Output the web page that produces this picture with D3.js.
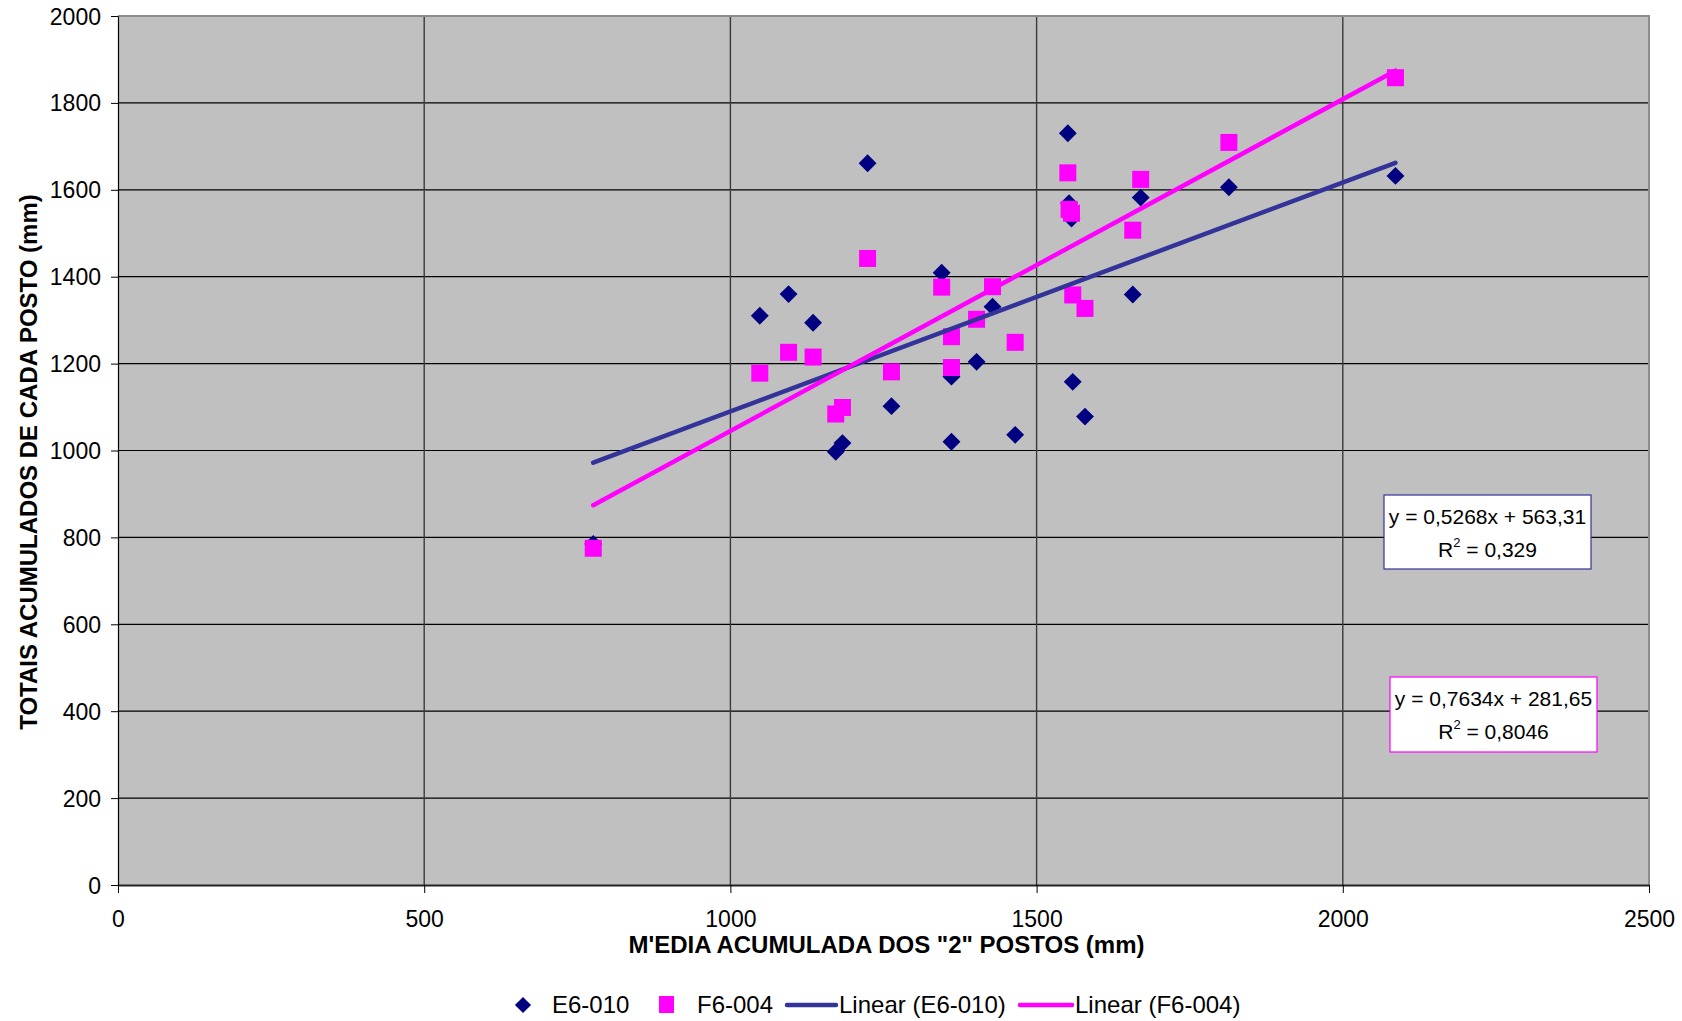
<!DOCTYPE html>
<html>
<head>
<meta charset="utf-8">
<script src="https://cdn.jsdelivr.net/npm/d3@7"></script>
<style>
  body { margin: 0; background: #fff; }
  svg text { font-family: "Liberation Sans", Arial, sans-serif; fill: #000; }
</style>
</head>
<body>
<div id="chart"></div>
<script>
// x values (shared by both series) and the two y series
const xValues = [776, 1048, 1095, 1135, 1172, 1183, 1224, 1263, 1345, 1361, 1361, 1402, 1428, 1465, 1551, 1553, 1557, 1559, 1579, 1657, 1670, 1814, 2086];
const e6Values = [785, 1310, 1360, 1294, 997, 1017, 1661, 1102, 1409, 1170, 1020, 1204, 1331, 1036, 1730, 1569, 1534, 1158, 1078, 1359, 1582, 1606, 1632];
const f6Values = [775, 1178, 1226, 1215, 1084, 1099, 1442, 1181, 1376, 1262, 1191, 1302, 1377, 1249, 1639, 1555, 1546, 1358, 1327, 1507, 1624, 1709, 1858];

// trend line coefficients as printed on the chart
const seriesNames = ["E6-010", "F6-004"];
const trendSlopes = [0.5268, 0.7634];
const trendIntercepts = [563.31, 281.65];
const trendEquations = ["y = 0,5268x + 563,31", "y = 0,7634x + 281,65"];
const trendR2 = ["0,329", "0,8046"];

const xTicks = [0, 500, 1000, 1500, 2000, 2500];
const yTicks = [0, 200, 400, 600, 800, 1000, 1200, 1400, 1600, 1800, 2000];

const width = 1682;
const height = 1021;
const margin = { left: 118, top: 16, right: 33, bottom: 136 };

const navy = "#000080";
const magenta = "#ff00ff";
const trendBlue = "#333399";

const svg = d3
  .select("#chart")
  .append("svg")
  .attr("width", width)
  .attr("height", height);

const x = d3
  .scaleLinear()
  .domain([0, 2500])
  .range([margin.left, width - margin.right]);

const y = d3
  .scaleLinear()
  .domain([0, 2000])
  .range([height - margin.bottom, margin.top]);

// plot background
svg
  .append("rect")
  .attr("x", x(0))
  .attr("y", y(2000))
  .attr("width", x(2500) - x(0))
  .attr("height", y(0) - y(2000))
  .attr("fill", "#c0c0c0");

// grid lines
svg
  .append("g")
  .selectAll("line")
  .data(yTicks.filter((d) => d > 0 && d < 2000))
  .join("line")
  .attr("x1", x(0))
  .attr("x2", x(2500))
  .attr("y1", (d) => y(d))
  .attr("y2", (d) => y(d))
  .attr("stroke", "#000")
  .attr("stroke-width", 1.2);

svg
  .append("g")
  .selectAll("line")
  .data(xTicks.filter((d) => d > 0 && d < 2500))
  .join("line")
  .attr("x1", (d) => x(d))
  .attr("x2", (d) => x(d))
  .attr("y1", y(0))
  .attr("y2", y(2000))
  .attr("stroke", "#3a3a3a")
  .attr("stroke-width", 1.4);

// top and right border (grey)
svg
  .append("path")
  .attr("d", `M${x(0)},${y(2000)}H${x(2500)}V${y(0)}`)
  .attr("fill", "none")
  .attr("stroke", "#8c8c8c")
  .attr("stroke-width", 2);

// axes
const fmt = d3.format("d");
const xAxis = svg
  .append("g")
  .attr("transform", `translate(0,${y(0)})`)
  .call(d3.axisBottom(x).tickValues(xTicks).tickFormat(fmt).tickSize(8).tickSizeOuter(0));

const yAxis = svg
  .append("g")
  .attr("transform", `translate(${x(0)},0)`)
  .call(d3.axisLeft(y).tickValues(yTicks).tickFormat(fmt).tickSize(7).tickSizeOuter(0));

xAxis.select(".domain").attr("stroke", "#222").attr("stroke-width", 2);
yAxis.select(".domain").attr("stroke", "#000").attr("stroke-width", 1.2);
xAxis.selectAll(".tick line").attr("stroke", "#000");
yAxis.selectAll(".tick line").attr("stroke", "#000");

xAxis
  .selectAll(".tick text")
  .attr("y", 0)
  .attr("dy", null)
  .attr("transform", "translate(0,42)")
  .style("font-size", "23px")
  .style("font-family", '"Liberation Sans", Arial, sans-serif');

yAxis
  .selectAll(".tick text")
  .attr("x", -17)
  .attr("dy", "0.35em")
  .style("font-size", "23px")
  .style("font-family", '"Liberation Sans", Arial, sans-serif');

// axis titles
svg
  .append("text")
  .attr("x", (x(0) + x(2500)) / 2 + 3)
  .attr("y", 953)
  .attr("text-anchor", "middle")
  .style("font-size", "24px")
  .style("font-weight", "bold")
  .text('M\'EDIA ACUMULADA DOS "2" POSTOS (mm)');

svg
  .append("text")
  .attr("transform", "translate(37,462) rotate(-90)")
  .attr("text-anchor", "middle")
  .style("font-size", "24px")
  .style("font-weight", "bold")
  .text("TOTAIS ACUMULADOS DE CADA POSTO (mm)");

// markers
const diamond = d3.symbol().type(d3.symbolSquare).size(160);

svg
  .append("g")
  .selectAll("path")
  .data(xValues.map((v, i) => [v, e6Values[i]]))
  .join("path")
  .attr("d", diamond)
  .attr("transform", (d) => `translate(${x(d[0])},${y(d[1])}) rotate(45)`)
  .attr("fill", navy);

const sq = 17;
svg
  .append("g")
  .selectAll("rect")
  .data(xValues.map((v, i) => [v, f6Values[i]]))
  .join("rect")
  .attr("x", (d) => x(d[0]) - sq / 2)
  .attr("y", (d) => y(d[1]) - sq / 2)
  .attr("width", sq)
  .attr("height", sq)
  .attr("fill", magenta);

// trend lines from min x to max x
const xMin = d3.min(xValues);
const xMax = d3.max(xValues);
const trendColors = [trendBlue, magenta];

trendSlopes.forEach((m, i) => {
  const b = trendIntercepts[i];
  svg
    .append("line")
    .attr("x1", x(xMin))
    .attr("y1", y(m * xMin + b))
    .attr("x2", x(xMax))
    .attr("y2", y(m * xMax + b))
    .attr("stroke", trendColors[i])
    .attr("stroke-width", 4.5)
    .attr("stroke-linecap", "round");
});

// equation boxes
const boxes = [
  { x: 1384, y: 495, w: 207, h: 74 },
  { x: 1390, y: 677, w: 207, h: 75 },
];

boxes.forEach((bx, i) => {
  const g = svg.append("g");
  g.append("rect")
    .attr("x", bx.x)
    .attr("y", bx.y)
    .attr("width", bx.w)
    .attr("height", bx.h)
    .attr("fill", "#fff")
    .attr("stroke", trendColors[i])
    .attr("stroke-width", 1.2);
  g.append("text")
    .attr("x", bx.x + bx.w / 2)
    .attr("y", bx.y + 29)
    .attr("text-anchor", "middle")
    .style("font-size", "21px")
    .text(trendEquations[i]);
  const t = g
    .append("text")
    .attr("x", bx.x + bx.w / 2)
    .attr("y", bx.y + 62)
    .attr("text-anchor", "middle")
    .style("font-size", "21px");
  t.append("tspan").text("R");
  t.append("tspan").attr("dy", -10).style("font-size", "13px").text("2");
  t.append("tspan").attr("dy", 10).text(" = " + trendR2[i]);
});

// legend
const legendY = 1005;
const legend = svg.append("g").style("font-size", "24px");

legend
  .append("path")
  .attr("d", d3.symbol().type(d3.symbolSquare).size(130))
  .attr("transform", `translate(523,${legendY}) rotate(45)`)
  .attr("fill", navy);
legend.append("text").attr("x", 552).attr("y", legendY).attr("dy", "0.35em").text(seriesNames[0]);

legend
  .append("rect")
  .attr("x", 659)
  .attr("y", legendY - 9)
  .attr("width", 15)
  .attr("height", 17)
  .attr("fill", magenta);
legend.append("text").attr("x", 697).attr("y", legendY).attr("dy", "0.35em").text(seriesNames[1]);

[
  { x1: 787, x2: 836, tx: 839 },
  { x1: 1020, x2: 1072, tx: 1075 },
].forEach((l, i) => {
  legend
    .append("line")
    .attr("x1", l.x1)
    .attr("x2", l.x2)
    .attr("y1", legendY)
    .attr("y2", legendY)
    .attr("stroke", trendColors[i])
    .attr("stroke-width", 4.5)
    .attr("stroke-linecap", "round");
  legend
    .append("text")
    .attr("x", l.tx)
    .attr("y", legendY)
    .attr("dy", "0.35em")
    .text("Linear (" + seriesNames[i] + ")");
});
</script>
</body>
</html>
